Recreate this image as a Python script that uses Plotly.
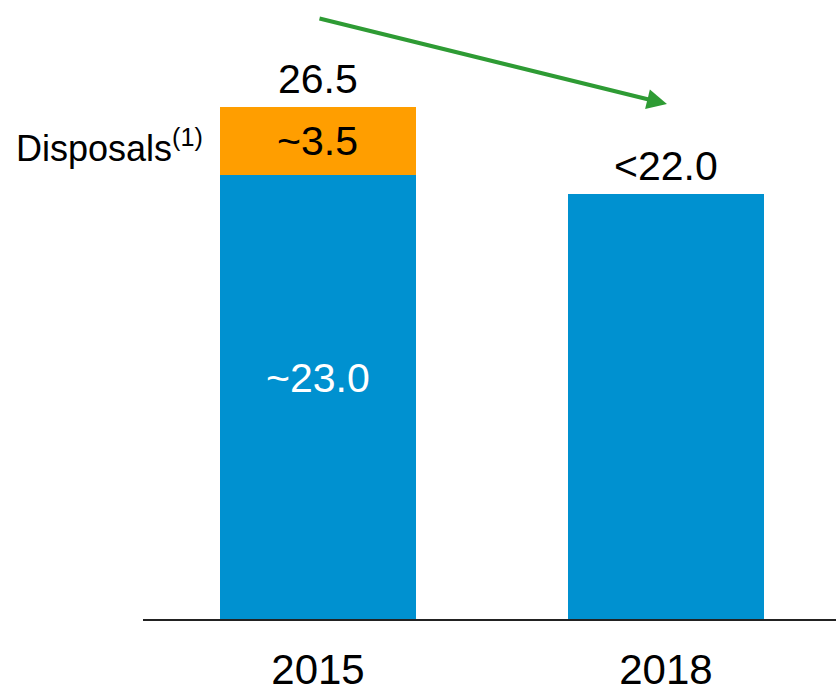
import plotly.graph_objects as go

years = ["2015", "2018"]
base_values = [23.0, 22.0]
disposal_values = [3.5, 0.0]
totals = [26.5, 22.0]
base_labels = ["~23.0", ""]
disposal_labels = ["~3.5", ""]
total_labels = ["26.5", "<22.0"]

BLUE = "#0091D0"
ORANGE = "#FF9E00"
GREEN = "#2E9B34"
FONT = "Liberation Sans, Arial, sans-serif"

xpos = list(range(len(years)))
bw = 0.563

fig = go.Figure()
fig.add_trace(go.Bar(x=xpos, y=base_values, width=bw, marker=dict(color=BLUE, line=dict(width=0)),
                     hoverinfo="skip"))
fig.add_trace(go.Bar(x=xpos, y=disposal_values, width=bw, marker=dict(color=ORANGE, line=dict(width=0)),
                     hoverinfo="skip"))

ann = []
for i in xpos:
    ann.append(dict(x=i, y=totals[i] + 1.45, text=total_labels[i], showarrow=False,
                    font=dict(size=41, color="black", family=FONT), xanchor="center", yanchor="middle"))
    if base_labels[i]:
        ann.append(dict(x=i, y=base_values[i] - 10.5, text=base_labels[i], showarrow=False,
                        font=dict(size=41, color="white", family=FONT), xanchor="center", yanchor="middle"))
    if disposal_labels[i]:
        ann.append(dict(x=i, y=base_values[i] + disposal_values[i] / 2, text=disposal_labels[i], showarrow=False,
                        font=dict(size=41, color="black", family=FONT), xanchor="center", yanchor="middle"))
        ann.append(dict(x=i - 0.325, y=base_values[i] + disposal_values[i] / 2 - 0.25,
                        text="Disposals<sup>(1)</sup>", showarrow=False,
                        font=dict(size=36, color="black", family=FONT), xanchor="right", yanchor="middle"))

# trend arrow from 2015 to 2018
ann.append(dict(x=1.003, y=26.66, ax=0.0, ay=31.1, xref="x", yref="y", axref="x", ayref="y",
                text="", showarrow=True, arrowhead=2, arrowsize=1, arrowwidth=4, arrowcolor=GREEN))

fig.update_layout(
    width=836, height=690,
    margin=dict(l=143, r=0, t=0, b=71),
    barmode="stack",
    showlegend=False,
    plot_bgcolor="white", paper_bgcolor="white",
    annotations=ann,
    xaxis=dict(range=[-0.503, 1.489], tickvals=xpos, ticktext=years, showgrid=False, zeroline=False,
               showline=True, linecolor="#222222", linewidth=2, ticks="", automargin=False,
               tickfont=dict(size=42, color="black", family=FONT), ticklabelstandoff=13),
    yaxis=dict(range=[0, 32.04], visible=False, showgrid=False, zeroline=False, automargin=False),
)

fig.write_html("out.html")
